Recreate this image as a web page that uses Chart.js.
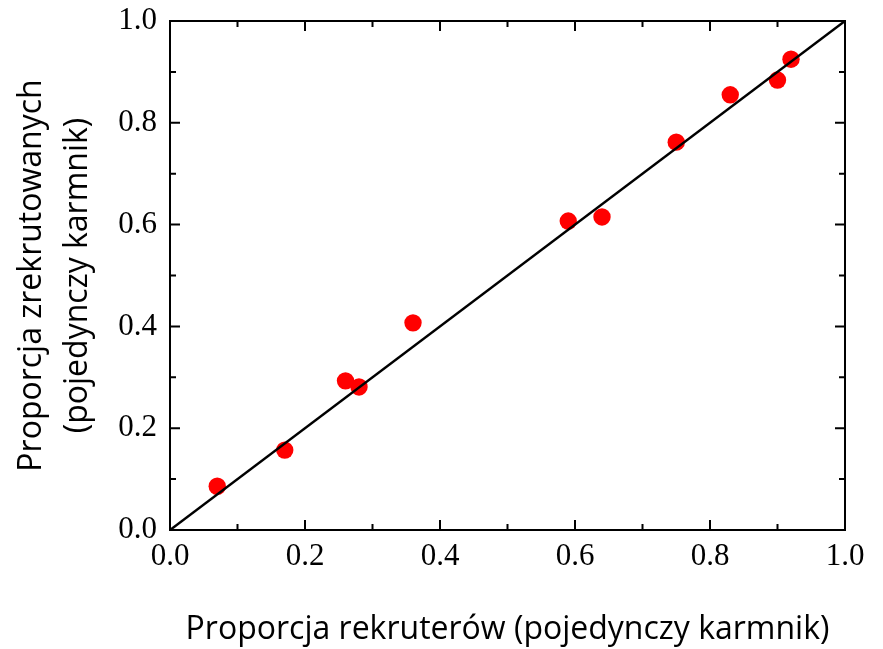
<!DOCTYPE html>
<html>
<head>
<meta charset="utf-8">
<script src="https://cdn.jsdelivr.net/npm/chart.js@4"></script>
<style>
  html, body { margin: 0; padding: 0; background: #fff; }
  #wrap { width: 883px; height: 649px; }
</style>
</head>
<body>
<div id="wrap"><canvas id="c" width="883" height="649"></canvas></div>
<script>
// Proportion of recruiters vs proportion of recruited individuals (single feeder)
const recruiterShare = [0.07, 0.17, 0.26, 0.28, 0.36, 0.59, 0.64, 0.75, 0.83, 0.90, 0.92];
const recruitedShare = [0.086, 0.157, 0.293, 0.281, 0.407, 0.607, 0.615, 0.762, 0.855, 0.884, 0.925];

// 1:1 reference line
const identityX = [0, 1];
const identityY = [0, 1];

// Axis ticks
const majorTicks = [0, 0.2, 0.4, 0.6, 0.8, 1.0];
const minorTicks = [0.1, 0.3, 0.5, 0.7, 0.9];

const xTitle = 'Proporcja rekruterów (pojedynczy karmnik)';
const yTitle = ['Proporcja zrekrutowanych', '(pojedynczy karmnik)'];

const points = recruiterShare.map((x, i) => ({ x: x, y: recruitedShare[i] }));
const linePts = identityX.map((x, i) => ({ x: x, y: identityY[i] }));

// Frame around the plot with inward tick marks on all four sides
const framePlugin = {
  id: 'frame',
  afterDraw(chart) {
    const { ctx, chartArea: a, scales } = chart;
    const xs = scales.x, ys = scales.y;
    ctx.save();
    ctx.strokeStyle = '#000';
    ctx.lineWidth = 2;
    ctx.lineCap = 'square';
    ctx.strokeRect(a.left, a.top, a.right - a.left, a.bottom - a.top);
    const mark = (vals, len) => {
      ctx.beginPath();
      vals.forEach(v => {
        const px = xs.getPixelForValue(v);
        ctx.moveTo(px, a.bottom); ctx.lineTo(px, a.bottom - len);
        ctx.moveTo(px, a.top);    ctx.lineTo(px, a.top + len);
        const py = ys.getPixelForValue(v);
        ctx.moveTo(a.left, py);   ctx.lineTo(a.left + len, py);
        ctx.moveTo(a.right, py);  ctx.lineTo(a.right - len, py);
      });
      ctx.stroke();
    };
    mark(majorTicks, 9);
    mark(minorTicks, 5);
    ctx.restore();
  }
};

const tickFont = { family: "'Liberation Serif', 'Times New Roman', serif", size: 31 };
const titleFont = { family: "'Open Sans', 'Noto Sans', sans-serif", size: 32 };

new Chart(document.getElementById('c'), {
  type: 'scatter',
  data: {
    datasets: [
      {
        type: 'line',
        data: linePts,
        borderColor: '#000',
        borderWidth: 2.5,
        pointRadius: 0,
        fill: false,
        order: 0
      },
      {
        data: points,
        backgroundColor: '#ff0000',
        borderWidth: 0,
        pointRadius: 8.7,
        pointHoverRadius: 8.7,
        order: 1
      }
    ]
  },
  options: {
    responsive: false,
    animation: false,
    devicePixelRatio: 1,
    layout: { padding: { top: 21, right: 38, left: 0, bottom: 0 } },
    plugins: { legend: { display: false }, tooltip: { enabled: false } },
    scales: {
      x: {
        type: 'linear',
        min: 0, max: 1,
        afterBuildTicks(scale) { scale.ticks = majorTicks.map(v => ({ value: v })); },
        afterFit(scale) { scale.height = 119; scale.paddingLeft = 0; scale.paddingRight = 0; },
        grid: { display: false, drawTicks: false },
        border: { display: false },
        ticks: {
          color: '#000', font: tickFont, padding: 8, maxRotation: 0, autoSkip: false,
          callback: v => Number(v).toFixed(1)
        },
        title: { display: true, text: xTitle, color: '#000', font: titleFont, padding: { top: 0, bottom: 0 } }
      },
      y: {
        type: 'linear',
        min: 0, max: 1,
        afterBuildTicks(scale) { scale.ticks = majorTicks.map(v => ({ value: v })); },
        afterFit(scale) { scale.width = 170; scale.paddingTop = 0; scale.paddingBottom = 0; },
        grid: { display: false, drawTicks: false },
        border: { display: false },
        ticks: {
          color: '#000', font: tickFont, padding: 13, autoSkip: false,
          callback: v => Number(v).toFixed(1)
        },
        title: {
          display: true, text: yTitle, color: '#000',
          font: Object.assign({}, titleFont, { lineHeight: 1.44 }),
          padding: { top: 9, bottom: 0 }
        }
      }
    }
  },
  plugins: [framePlugin]
});
</script>
</body>
</html>
